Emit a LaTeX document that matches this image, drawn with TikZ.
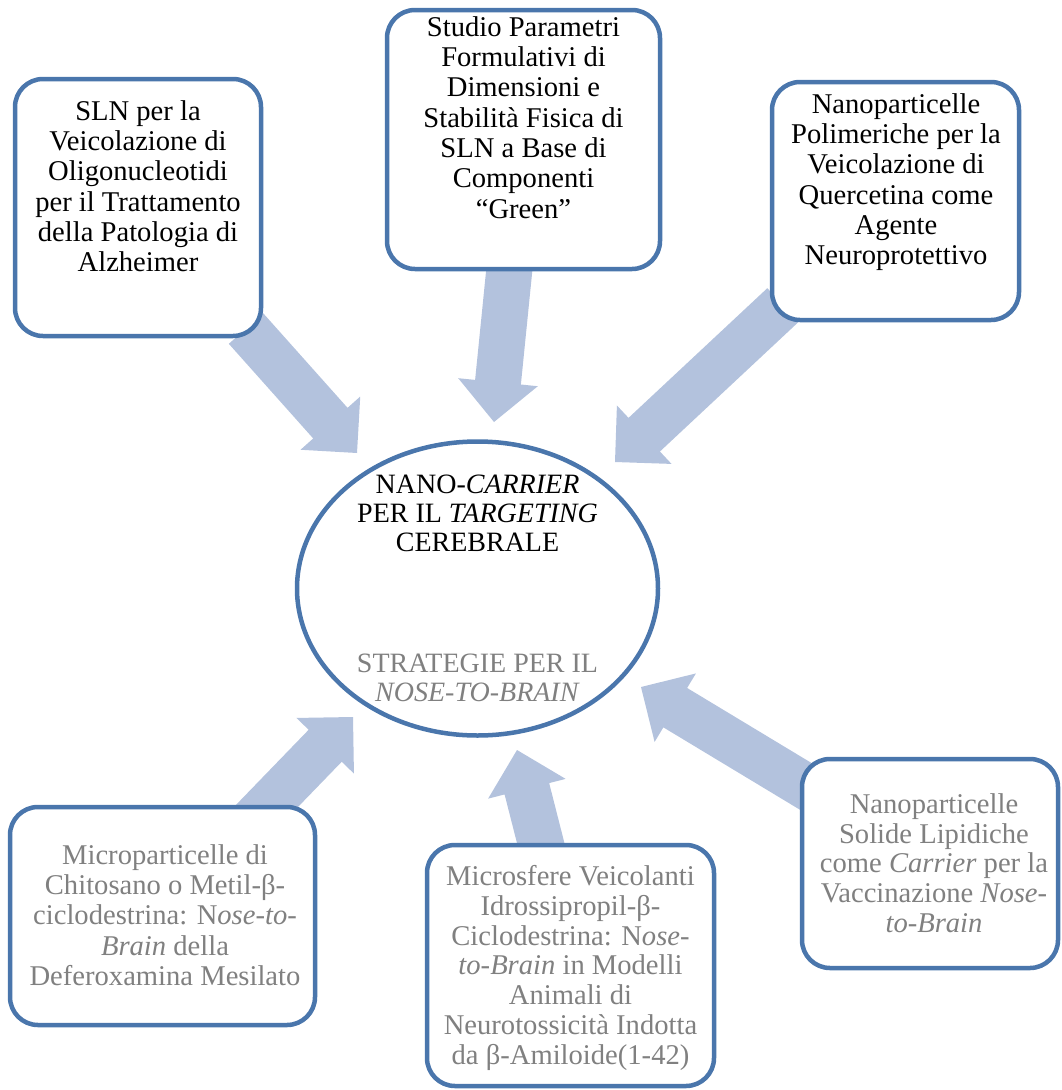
\documentclass[tikz,border=0pt]{standalone}
\usepackage{fontspec}
\setmainfont{Liberation Serif}
\usetikzlibrary{calc}
\definecolor{boxblue}{RGB}{74,118,172}
\definecolor{arrowblue}{RGB}{179,194,221}
\definecolor{txtgray}{RGB}{128,128,128}
\newcommand\blockarr[2]{%
  \coordinate (B) at ($(#2)!40pt!(#1)$);
  \fill[arrowblue] ($(#1)!23pt!90:(#2)$) -- ($(B)!23pt!-90:(#1)$) -- ($(B)!40pt!-90:(#1)$)
    -- (#2) -- ($(B)!40pt!90:(#1)$) -- ($(B)!23pt!90:(#1)$) -- ($(#1)!23pt!-90:(#2)$) -- cycle;}
\tikzset{
  boxnode/.style={draw=boxblue, line width=4.5pt, fill=white, rounded corners=28pt, inner sep=0pt},
  btext/.style={anchor=north, inner sep=0pt, align=center, font=\fontsize{28.6}{30.3}\selectfont},
  btextb/.style={btext, font=\fontsize{28.6}{29.8}\selectfont},
  etext/.style={anchor=north, inner sep=0pt, align=center, font=\fontsize{28}{29}\selectfont},
}
\begin{document}
\begin{tikzpicture}[x=1pt,y=-1pt]
\useasboundingbox (0,0) rectangle (1062,1090);
% arrow end points
\coordinate (s1) at (246,328.5);  \coordinate (t1) at (357,453);
\coordinate (s2) at (511,253);    \coordinate (t2) at (494,422);
\coordinate (s3) at (783,305);    \coordinate (t3) at (615,462);
\coordinate (s4) at (235,839);    \coordinate (t4) at (353,717);
\coordinate (s5) at (556.5,905);  \coordinate (t5) at (517,750);
\coordinate (s6) at (826,798.6);  \coordinate (t6) at (641,687);
\blockarr{s1}{t1}
\blockarr{s2}{t2}
\blockarr{s3}{t3}
\blockarr{s4}{t4}
\blockarr{s5}{t5}
\blockarr{s6}{t6}
% boxes
\node[boxnode, minimum width=246pt, minimum height=257pt] (b1) at (138,207.5) {};
\node[boxnode, minimum width=273pt, minimum height=259pt] (b2) at (523.5,139.5) {};
\node[boxnode, minimum width=247pt, minimum height=238pt] (b3) at (895.5,201) {};
\node[boxnode, minimum width=305pt, minimum height=218pt] (b4) at (162.5,916) {};
\node[boxnode, minimum width=287pt, minimum height=241pt] (b5) at (570.5,965.5) {};
\node[boxnode, minimum width=256pt, minimum height=209pt] (b6) at (930,863.5) {};
% central ellipse
\draw[boxblue, line width=4.5pt, fill=white] (477.5,588.5) ellipse [x radius=180.5, y radius=147];
\coordinate (ec) at (477.5,588.5);
% texts
\node[btext] (x1) at (138,100.2) {SLN per la\\Veicolazione di\\Oligonucleotidi\\per il Trattamento\\della Patologia di\\Alzheimer};
\node[btext] (x2) at (523.5,16.2) {Studio Parametri\\Formulativi di\\Dimensioni e\\Stabilità Fisica di\\SLN a Base di\\Componenti\\“Green”};
\node[btext] (x3) at (896,93.2) {Nanoparticelle\\Polimeriche per la\\Veicolazione di\\Quercetina come\\Agente\\Neuroprotettivo};
\node[btext, text=txtgray] (x4) at (165,844.2) {Microparticelle di\\Chitosano o Metil-β-\\ciclodestrina: N\textit{ose-to-}\\\textit{Brain} della\\Deferoxamina Mesilato};
\node[btextb, text=txtgray] (x5) at (570.5,865.2) {Microsfere Veicolanti\\Idrossipropil-β-\\Ciclodestrina: N\textit{ose-}\\\textit{to-Brain} in Modelli\\Animali di\\Neurotossicità Indotta\\da β-Amiloide(1-42)};
\node[btextb, text=txtgray] (x6) at (934,793.2) {Nanoparticelle\\Solide Lipidiche\\come \textit{Carrier} per la\\Vaccinazione \textit{Nose-}\\\textit{to-Brain}};
\node[etext] (e1) at (477.5,474.3) {NANO-\textit{CARRIER}\\PER IL \textit{TARGETING}\\CEREBRALE};
\node[etext, text=txtgray] (e2) at (477.5,653.3) {STRATEGIE PER IL\\\textit{NOSE-TO-BRAIN}};
\end{tikzpicture}
\end{document}
